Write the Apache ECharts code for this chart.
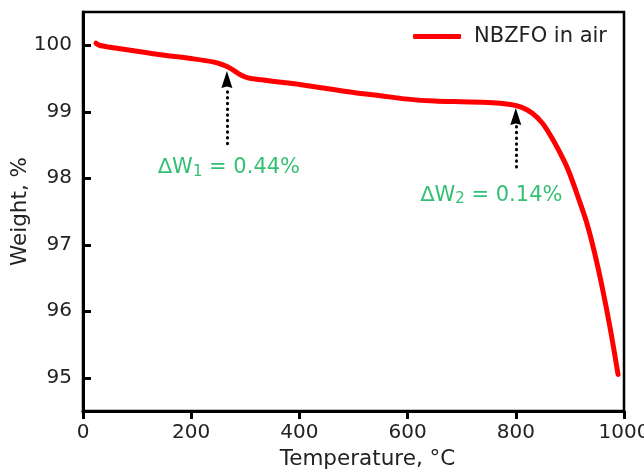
<!DOCTYPE html>
<html>
<head>
<meta charset="utf-8">
<script src="https://cdn.jsdelivr.net/npm/echarts@6/dist/echarts.min.js"></script>
<style>
  html, body { margin: 0; padding: 0; background: #fff; }
  #chart { width: 644px; height: 472px; }
</style>
</head>
<body>
<div id="chart"></div>
<script>
// TGA curve
const temps   = [24, 30, 50, 100, 150, 200, 240, 260, 275, 290, 305, 330, 370, 400, 450, 500, 550, 600, 650, 700, 750, 790, 810, 830, 850, 870, 890, 900, 915, 930, 945, 960, 975, 989]
const weights = [100.03, 100.0, 99.97, 99.91, 99.85, 99.8, 99.75, 99.7, 99.64, 99.56, 99.51, 99.48, 99.44, 99.41, 99.35, 99.29, 99.24, 99.19, 99.16, 99.15, 99.14, 99.11, 99.07, 98.98, 98.82, 98.56, 98.25, 98.06, 97.72, 97.36, 96.9, 96.35, 95.72, 95.05]

const yTicks = [95, 96, 97, 98, 99, 100]

// arrows: x, shaft bottom, head base, head centre
const arrowX     = [266, 800]
const shaftFrom  = [98.52, 98.17]
const shaftTo    = [99.36, 98.8]
const headAt     = [99.485, 98.93]

// labels: x, y, subscript, value
const labelX   = [270, 755]
const labelY   = [98.16, 97.74]
const labelSub = ['1', '2']
const labelVal = ['0.44%', '0.14%']

const font = 'DejaVu Sans'
const green = '#00b050'

const chart = echarts.init(document.getElementById('chart'))

chart.setOption({
  animation: false,
  grid: {
    left: 83, right: 20, top: 12, bottom: 61,
    outerBoundsMode: 'none',
    show: true, borderColor: '#000', borderWidth: 2.5
  },
  legend: {
    data: ['NBZFO in air'],
    right: 32, top: 21,
    icon: 'roundRect',
    itemWidth: 48, itemHeight: 5,
    textStyle: { fontFamily: font, fontSize: 21, color: '#222', padding: [0, 0, 0, 8] }
  },
  xAxis: {
    type: 'value', min: 0, max: 1000, interval: 200,
    name: 'Temperature, °C', nameLocation: 'middle', nameGap: 37, nameMoveOverlap: false,
    nameTextStyle: { fontFamily: font, fontSize: 21.5, color: '#222', padding: [0, 0, 0, 28] },
    axisLine: { lineStyle: { color: '#000', width: 3 } },
    axisTick: { inside: false, length: 8, lineStyle: { color: '#000', width: 3 } },
    axisLabel: { margin: 12, fontFamily: font, fontSize: 20, color: '#222', formatter: v => String(v) },
    splitLine: { show: false }
  },
  yAxis: {
    type: 'value', min: 94.5, max: 100.5,
    name: 'Weight, %', nameLocation: 'middle', nameGap: 52, nameMoveOverlap: false,
    nameTextStyle: { fontFamily: font, fontSize: 21.5, color: '#222' },
    axisLine: { show: true, lineStyle: { color: '#000', width: 3 } },
    axisTick: { show: true, inside: true, length: 8, customValues: yTicks, lineStyle: { color: '#000', width: 3 } },
    axisLabel: { margin: 11, fontFamily: font, fontSize: 20, color: '#222', customValues: yTicks },
    splitLine: { show: false }
  },
  series: [
    {
      name: 'NBZFO in air',
      type: 'line',
      smooth: 0.3,
      symbol: 'none',
      lineStyle: { color: '#ff0000', width: 5, cap: 'round', join: 'round' },
      itemStyle: { color: '#ff0000' },
      data: temps.map((t, i) => [t, weights[i]]),
      z: 3
    },
    {
      type: 'scatter',
      symbolSize: 0,
      silent: true,
      data: labelX.map((x, i) => ({
        value: [x, labelY[i]],
        label: {
          show: true, position: 'inside',
          formatter: '{d|∆W}{s|' + labelSub[i] + '}{d| = ' + labelVal[i] + '}',
          rich: {
            d: { fontFamily: font, fontSize: 21, color: green },
            s: { fontFamily: font, fontSize: 15, color: green, padding: [8, 0, 0, 0] }
          }
        }
      })),
      markLine: {
        silent: true,
        symbol: ['none', 'none'],
        label: { show: false },
        lineStyle: { color: '#000', width: 3, type: [0.5, 5.2], cap: 'round' },
        data: arrowX.map((x, i) => [{ coord: [x, shaftFrom[i]] }, { coord: [x, shaftTo[i]] }])
      },
      markPoint: {
        silent: true,
        symbol: 'path://M5 0 L10 17 L5 15.5 L0 17 Z',
        symbolSize: [11, 17],
        itemStyle: { color: '#000' },
        label: { show: false },
        data: arrowX.map((x, i) => ({ coord: [x, headAt[i]] }))
      }
    }
  ]
})
</script>
</body>
</html>
